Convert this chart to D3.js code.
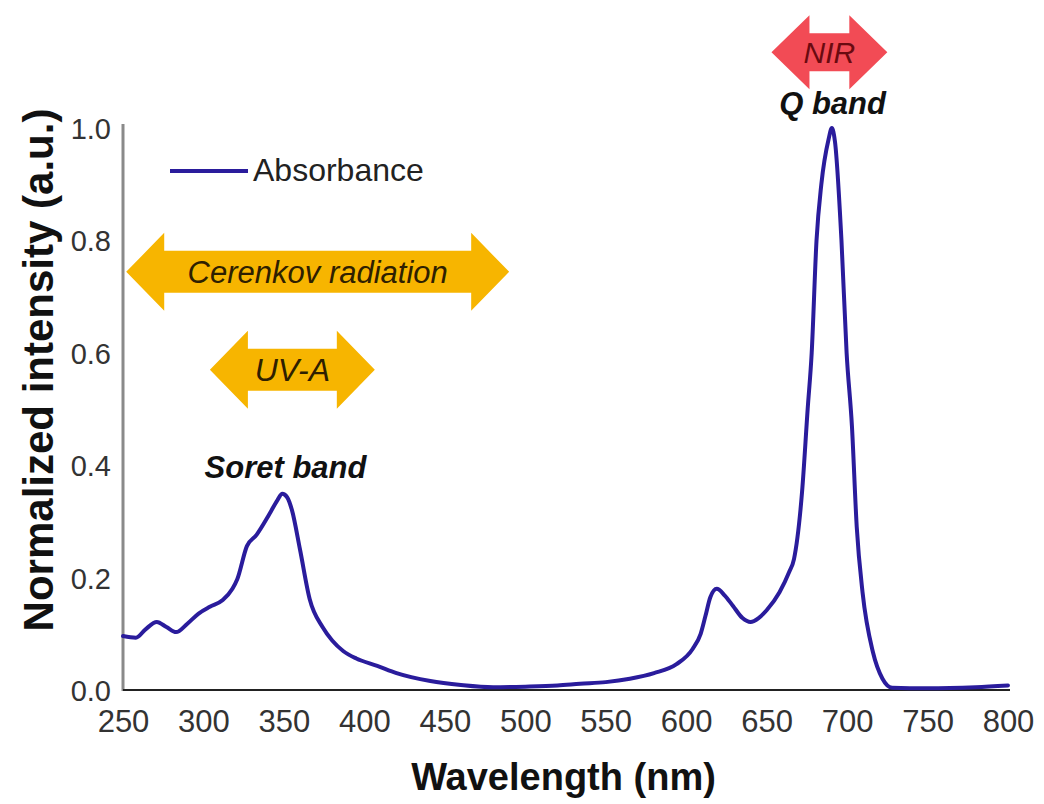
<!DOCTYPE html>
<html>
<head>
<meta charset="utf-8">
<script src="https://cdn.jsdelivr.net/npm/d3@7"></script>
<style>
  body { margin: 0; background: #fff; }
  text { font-family: "Liberation Sans", Arial, sans-serif; }
</style>
</head>
<body>
<div id="vis"></div>
<script>
const ctx = {
    w: 1044,
    h: 804,
    left: 123,
    right: 1008,
    top: 128,
    bottom: 690
};

// absorbance spectrum
const wavelengths = [250, 258, 264, 271, 277, 283, 290, 297, 304, 312, 318, 321, 327, 333, 341, 346, 349, 352, 355, 360,
    366, 374, 380, 387, 395, 408, 420, 441, 460, 480, 500, 520, 534, 550, 565, 580, 594, 604, 609, 612,
    615, 619, 624, 629, 635, 640, 645, 650, 658, 664, 667, 672, 675.5, 678, 681, 684, 688.5, 690.5, 692.5, 696.5,
    699.7, 703, 706, 709.6, 716, 722, 728, 750, 780, 800];
const absorbance = [0.096, 0.093, 0.108, 0.121, 0.112, 0.103, 0.118, 0.136, 0.148, 0.160, 0.180, 0.197, 0.256, 0.276, 0.313, 0.338, 0.349, 0.343, 0.320, 0.250,
    0.162, 0.112, 0.088, 0.069, 0.056, 0.043, 0.030, 0.016, 0.009, 0.005, 0.006, 0.008, 0.011, 0.014, 0.020, 0.030, 0.046, 0.073, 0.100, 0.132,
    0.165, 0.180, 0.168, 0.150, 0.128, 0.121, 0.128, 0.142, 0.174, 0.210, 0.233, 0.352, 0.500, 0.600, 0.800, 0.900, 0.980, 1.000, 0.975, 0.800,
    0.600, 0.470, 0.290, 0.174, 0.068, 0.020, 0.004, 0.003, 0.005, 0.008];

const xTicks = [250, 300, 350, 400, 450, 500, 550, 600, 650, 700, 750, 800];
const yTicks = [0, 0.2, 0.4, 0.6, 0.8, 1.0];

// spectral ranges drawn as double arrows: [from nm, to nm, height a.u.]
const bandNames = ["Cerenkov radiation", "UV-A", "NIR"];
const bandRanges = [[252, 490, 0.744], [304, 406.5, 0.57], [653, 725, 1.135]];

// peak labels
const peakNames = ["Soret band", "Q band"];
const peakPos = [[351, 0.378], [691, 1.025]];

let x = d3.scaleLinear().domain([250, 800]).range([ctx.left, ctx.right]);
let y = d3.scaleLinear().domain([0, 1]).range([ctx.bottom, ctx.top]);

function arrowPath(x0, x1, cy, shaft, head, hl) {
    return `M${x0},${cy} L${x0 + hl},${cy - head} L${x0 + hl},${cy - shaft} L${x1 - hl},${cy - shaft}
            L${x1 - hl},${cy - head} L${x1},${cy} L${x1 - hl},${cy + head} L${x1 - hl},${cy + shaft}
            L${x0 + hl},${cy + shaft} L${x0 + hl},${cy + head} Z`;
}

function drawChart() {
    let svg = d3.select("#vis").append("svg")
        .attr("width", ctx.w)
        .attr("height", ctx.h);

    // axes
    svg.append("line")
        .attr("x1", ctx.left).attr("x2", ctx.left)
        .attr("y1", ctx.top - 4).attr("y2", ctx.bottom + 1)
        .style("stroke", "#8a8a8a").style("stroke-width", 3);
    svg.append("line")
        .attr("x1", ctx.left).attr("x2", ctx.right + 2)
        .attr("y1", ctx.bottom).attr("y2", ctx.bottom)
        .style("stroke", "#222").style("stroke-width", 2);

    let yAxis = svg.append("g")
        .attr("transform", `translate(${ctx.left},0)`)
        .call(d3.axisLeft(y).tickValues(yTicks).tickFormat(d3.format(".1f")).tickSize(0).tickPadding(12));
    yAxis.select(".domain").remove();
    yAxis.selectAll("text")
        .style("font-size", "29px")
        .style("fill", "#333")
        .attr("dy", "0.36em");

    let xAxis = svg.append("g")
        .attr("transform", `translate(0,${ctx.bottom})`)
        .call(d3.axisBottom(x).tickValues(xTicks).tickFormat(d3.format("d")).tickSize(0).tickPadding(20));
    xAxis.select(".domain").remove();
    xAxis.selectAll("text")
        .style("font-size", "31px")
        .style("fill", "#333");

    // axis titles
    svg.append("text")
        .attr("transform", `translate(${(ctx.left + ctx.right) / 2 - 2},790)`)
        .style("text-anchor", "middle")
        .style("font-size", "38px")
        .style("font-weight", "bold")
        .style("fill", "#111")
        .text("Wavelength (nm)");
    svg.append("text")
        .attr("transform", `translate(53,370) rotate(-90)`)
        .style("text-anchor", "middle")
        .style("font-size", "42px")
        .style("font-weight", "bold")
        .style("fill", "#111")
        .text("Normalized intensity (a.u.)");

    // band arrows
    bandNames.forEach((name, i) => {
        let r = bandRanges[i];
        let isNir = name == "NIR";
        let cx = (x(r[0]) + x(r[1])) / 2;
        svg.append("path")
            .attr("d", arrowPath(x(r[0]), x(r[1]), y(r[2]), isNir ? 19 : 21, isNir ? 37 : 39, 38))
            .style("fill", isNir ? "#f24b55" : "#f7b500");
        svg.append("text")
            .attr("x", cx)
            .attr("y", y(r[2]) + 11)
            .style("text-anchor", "middle")
            .style("font-size", isNir ? "30px" : (name == "UV-A" ? "32px" : "31px"))
            .style("font-style", "italic")
            .style("fill", isNir ? "#6a0a10" : "#2e2000")
            .text(name);
    });

    // legend
    svg.append("line")
        .attr("x1", 170).attr("x2", 248)
        .attr("y1", 171).attr("y2", 171)
        .style("stroke", "#2a1c9c").style("stroke-width", 4);
    svg.append("text")
        .attr("x", 253).attr("y", 181)
        .style("font-size", "32px")
        .style("fill", "#222")
        .text("Absorbance");

    // spectrum
    let line = d3.line()
        .x((d, i) => x(wavelengths[i]))
        .y(d => y(d))
        .curve(d3.curveMonotoneX);
    svg.append("path")
        .datum(absorbance)
        .attr("d", line)
        .style("fill", "none")
        .style("stroke", "#2a1c9c")
        .style("stroke-width", 4)
        .style("stroke-linejoin", "round")
        .style("stroke-linecap", "round");

    // peak labels
    svg.selectAll(".peak")
        .data(peakNames)
        .enter()
        .append("text")
        .attr("class", "peak")
        .attr("x", (d, i) => x(peakPos[i][0]))
        .attr("y", (d, i) => y(peakPos[i][1]))
        .style("text-anchor", "middle")
        .style("font-size", "31px")
        .style("font-weight", "bold")
        .style("font-style", "italic")
        .style("fill", "#111")
        .text(d => d);
}

drawChart();
</script>
</body>
</html>
